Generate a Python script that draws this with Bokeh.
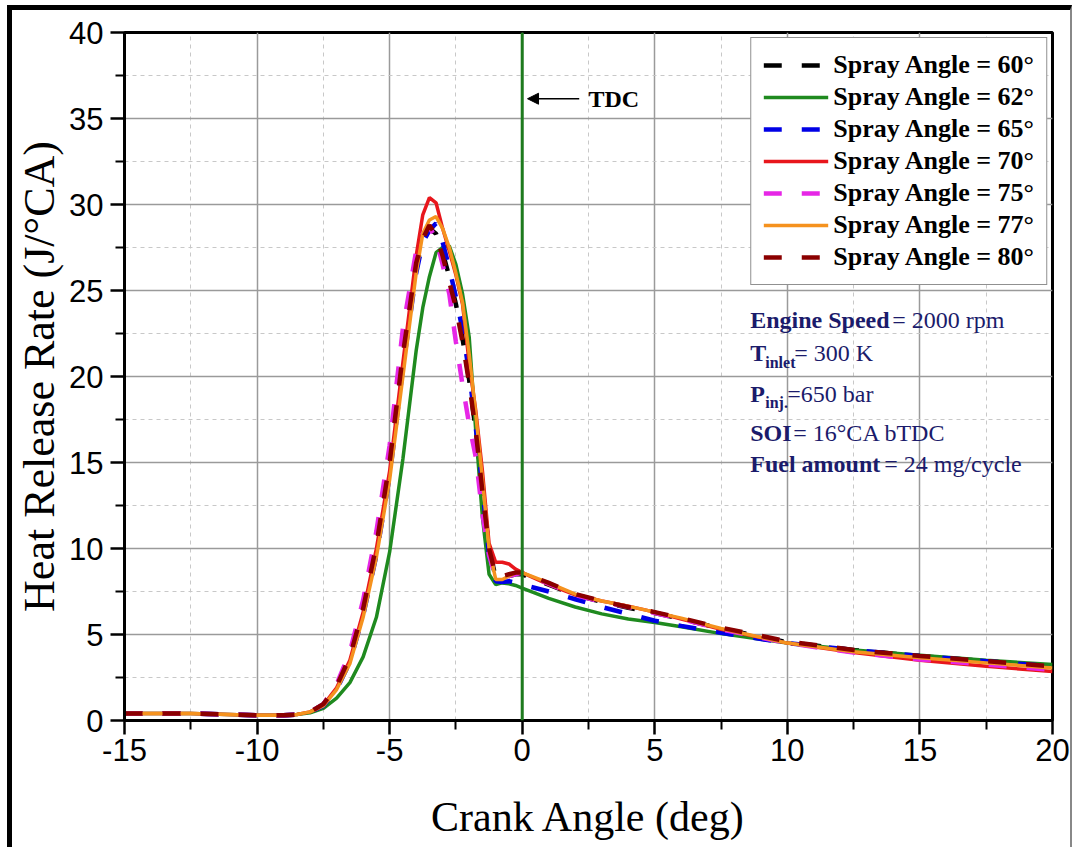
from bokeh.plotting import figure
from bokeh.models import (Legend, LegendItem, Label, Arrow, NormalHead, Span,
                          Range1d, FixedTicker)
from bokeh.layouts import column
from bokeh.embed import file_html
from bokeh.resources import INLINE

# Crank angle (deg) and heat release rate (J/°CA) for each spray angle
crank_angle = [-15, -12.5, -10, -9, -8.5, -8, -7.5,
               -7, -6.5, -6, -5.5, -5, -4.5, -4,
               -3.75, -3.5, -3.25, -3, -2.75, -2.5, -2.25, -2,
               -1.75, -1.5, -1.25, -1, -0.75, -0.5, -0.25, 0,
               1, 2, 3, 4, 5, 6, 7.5,
               10, 12.5, 15, 17.5, 20]

hrr_60 = [0.4, 0.4, 0.3, 0.3, 0.35, 0.5, 0.95,
          2.0, 3.7, 6.4, 10.0, 14.8, 21.0, 26.4,
          27.8, 28.6, 28.3, 27.2, 25.8, 24.2, 22.2, 19.8,
          16.8, 13.2, 10.0, 8.3, 8.3, 8.4, 8.5, 8.5,
          7.9, 7.3, 6.9, 6.55, 6.25, 5.9, 5.35,
          4.55, 4.1, 3.75, 3.45, 3.15]
hrr_62 = [0.4, 0.4, 0.3, 0.3, 0.35, 0.45, 0.7,
          1.3, 2.2, 3.7, 6.0, 9.8, 15.2, 21.5,
          24.0, 25.8, 27.2, 27.5, 27.6, 26.5, 24.8, 22.3,
          16.8, 11.8, 8.5, 7.9, 8.0, 7.95, 7.85, 7.7,
          7.1, 6.6, 6.2, 5.9, 5.7, 5.45, 5.05,
          4.5, 4.1, 3.8, 3.5, 3.25]
hrr_65 = [0.4, 0.4, 0.3, 0.3, 0.35, 0.5, 0.85,
          1.8, 3.4, 6.1, 9.6, 14.2, 20.5, 26.0,
          27.8, 28.5, 28.9, 27.8, 26.3, 24.6, 22.7, 20.2,
          17.0, 13.5, 9.6, 8.1, 8.05, 8.1, 8.0, 7.9,
          7.5, 7.05, 6.6, 6.2, 5.8, 5.5, 5.1,
          4.5, 4.1, 3.75, 3.45, 3.15]
hrr_70 = [0.4, 0.4, 0.3, 0.3, 0.35, 0.5, 0.9,
          1.9, 3.5, 6.3, 10.0, 14.5, 20.8, 27.0,
          29.4, 30.4, 30.1, 28.6, 27.3, 25.9, 24.2, 20.8,
          18.0, 14.5, 10.3, 9.2, 9.2, 9.1, 8.8, 8.6,
          7.9, 7.3, 6.95, 6.65, 6.3, 5.9, 5.3,
          4.5, 3.95, 3.5, 3.15, 2.85]
hrr_75 = [0.4, 0.4, 0.3, 0.3, 0.35, 0.5, 0.95,
          2.1, 4.0, 7.0, 11.0, 16.0, 22.8, 27.3,
          28.3, 28.7, 28.0, 26.5, 24.8, 22.0, 19.5, 17.2,
          15.3, 12.0, 9.6, 8.3, 8.3, 8.4, 8.5, 8.6,
          7.95, 7.3, 6.9, 6.6, 6.25, 5.9, 5.3,
          4.5, 3.95, 3.55, 3.25, 2.95]
hrr_77 = [0.4, 0.4, 0.3, 0.3, 0.35, 0.5, 0.85,
          1.8, 3.3, 6.0, 9.5, 14.0, 20.0, 26.0,
          28.3, 29.1, 29.3, 28.6, 27.5, 26.0, 24.3, 21.3,
          17.8, 14.0, 10.0, 8.2, 8.2, 8.4, 8.6, 8.6,
          8.0, 7.35, 6.95, 6.65, 6.3, 5.95, 5.35,
          4.5, 4.0, 3.65, 3.35, 3.05]
hrr_80 = [0.4, 0.4, 0.3, 0.3, 0.35, 0.5, 0.95,
          2.0, 3.7, 6.5, 10.2, 15.0, 21.3, 26.6,
          28.0, 28.8, 28.2, 27.0, 25.5, 24.0, 22.0, 19.6,
          16.8, 13.3, 10.0, 8.4, 8.4, 8.5, 8.6, 8.6,
          8.0, 7.35, 6.95, 6.6, 6.3, 5.95, 5.4,
          4.6, 4.1, 3.75, 3.45, 3.15]

series_labels = ["Spray Angle = 60°", "Spray Angle = 62°", "Spray Angle = 65°",
                 "Spray Angle = 70°", "Spray Angle = 75°", "Spray Angle = 77°",
                 "Spray Angle = 80°"]
series_values = [hrr_60, hrr_62, hrr_65, hrr_70, hrr_75, hrr_77, hrr_80]
series_colors = ["#000000", "#1f8a1f", "#0000e6", "#e8161c", "#e626e6",
                 "#f5921e", "#8b0000"]
series_dashed = [True, False, True, False, True, False, True]

x_ticks = [-15, -10, -5, 0, 5, 10, 15, 20]
y_ticks = [0, 5, 10, 15, 20, 25, 30, 35, 40]
tdc_angle = 0

SERIF = "Liberation Serif"
SANS = "Liberation Sans"
NAVY = "#1b1b6b"

p = figure(width=1058, height=837, output_backend="svg", toolbar_location=None,
           x_range=Range1d(-15, 20), y_range=Range1d(0, 40),
           min_border_left=112, min_border_right=18,
           min_border_top=22, min_border_bottom=127)

p.background_fill_color = "white"
p.border_fill_color = "white"
p.outline_line_color = "black"
p.outline_line_width = 3

# axes
p.xaxis.ticker = FixedTicker(ticks=x_ticks,
                             minor_ticks=[t + 2.5 for t in x_ticks[:-1]])
p.yaxis.ticker = FixedTicker(ticks=y_ticks,
                             minor_ticks=[t + 2.5 for t in y_ticks[:-1]])
# plain hyphen for negative tick values
p.xaxis.major_label_overrides = {t: str(t) for t in x_ticks}
p.xaxis.axis_label = "Crank Angle (deg)"
p.yaxis.axis_label = "Heat Release Rate (J/°CA)"
for ax in (p.xaxis, p.yaxis):
    ax.axis_line_width = 3
    ax.axis_line_color = "black"
    ax.major_tick_line_width = 2.5
    ax.major_tick_line_color = "black"
    ax.minor_tick_line_width = 2
    ax.minor_tick_line_color = "black"
    ax.major_tick_in = 0
    ax.major_tick_out = 14
    ax.minor_tick_in = 0
    ax.minor_tick_out = 9
    ax.major_label_text_font = SANS
    ax.major_label_text_font_size = "31px"
    ax.major_label_text_color = "black"
    ax.axis_label_text_font = SERIF
    ax.axis_label_text_font_style = "normal"
    ax.axis_label_text_color = "black"
p.xaxis.axis_label_text_font_size = "42px"
p.yaxis.axis_label_text_font_size = "44px"
p.xaxis.major_label_standoff = 4
p.xaxis.axis_label_standoff = 30
p.yaxis.major_label_standoff = 7
p.yaxis.axis_label_standoff = 2

# grid
for g in (p.xgrid, p.ygrid):
    g.grid_line_color = "#9a9a9a"
    g.grid_line_width = 1.5
    g.minor_grid_line_color = "#c8c8c8"
    g.minor_grid_line_dash = "4 4"
    g.minor_grid_line_width = 1

# TDC marker
p.add_layout(Span(location=tdc_angle, dimension="height",
                  line_color="#1e7b1e", line_width=3))
p.add_layout(Arrow(end=NormalHead(size=11, fill_color="black",
                                  line_color="black", line_width=1),
                   x_start=2.15, y_start=36.15, x_end=0.2, y_end=36.15,
                   line_color="black", line_width=1.5))
p.add_layout(Label(x=2.5, y=36.15, text="TDC", text_font=SERIF,
                   text_font_style="bold", text_font_size="24px",
                   text_baseline="middle", text_color="black"))

# curves
items = []
for label, vals, color, dashed in zip(series_labels, series_values,
                                      series_colors, series_dashed):
    r = p.line(crank_angle, vals, line_color=color,
               line_width=4.5 if dashed else 3.5,
               line_dash="18 20" if dashed else "solid")
    items.append(LegendItem(label=label, renderers=[r]))

legend = Legend(items=items, location="top_right", margin=5,
                label_text_font=SERIF, label_text_font_style="bold",
                label_text_font_size="26px", label_text_color="black",
                glyph_width=65, glyph_height=26, label_height=26,
                label_standoff=5, spacing=2, padding=12,
                border_line_color="#222222", border_line_width=1.5,
                background_fill_color="white", background_fill_alpha=1)
p.add_layout(legend)

# operating conditions
ann_x = 8.6
def ann(y, text, bold, xoff=0, size="24px", yoff=0):
    p.add_layout(Label(x=ann_x, y=y, x_offset=xoff, y_offset=yoff, text=text,
                       text_font=SERIF,
                       text_font_style="bold" if bold else "normal",
                       text_font_size=size, text_color=NAVY,
                       text_baseline="alphabetic"))

ann(23.26, "Engine Speed", True)
ann(23.26, "= 2000 rpm", False, xoff=142)
ann(21.34, "T", True)
ann(21.34, "inlet", True, xoff=15, size="16px", yoff=-9)
ann(21.34, "= 300 K", False, xoff=44)
ann(19.01, "P", True)
ann(19.01, "inj.", True, xoff=15, size="16px", yoff=-9)
ann(19.01, "=650 bar", False, xoff=37)
ann(16.74, "SOI", True)
ann(16.74, "= 16°CA bTDC", False, xoff=43)
ann(14.94, "Fuel amount", True)
ann(14.94, "= 24 mg/cycle", False, xoff=134)

page = column(p, styles={"border-left": "5px solid black",
                         "border-top": "5px solid black",
                         "border-right": "2px solid #888888",
                         "margin-left": "7px", "margin-top": "5px"})

open("out.html", "w").write(file_html(page, INLINE))
